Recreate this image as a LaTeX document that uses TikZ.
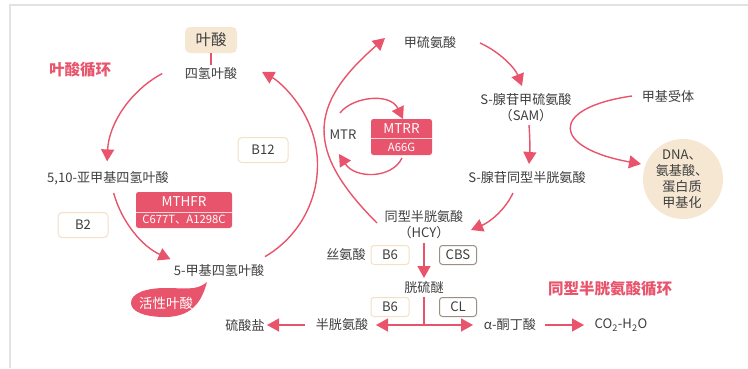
\documentclass[tikz,border=0pt]{standalone}
\usepackage{fontspec}
\setmainfont{Noto Sans CJK SC}
\usetikzlibrary{arrows.meta}
\definecolor{pk}{HTML}{E8546B}
\definecolor{tx}{HTML}{3E3E3E}
\definecolor{bg}{HTML}{F6E7D3}
\definecolor{bb}{HTML}{F5E0C6}
\definecolor{gb}{HTML}{9C8E84}
\definecolor{fr}{HTML}{E2E2E2}
\begin{document}
\begin{tikzpicture}[x=1pt,y=-1pt,
  every node/.style={font=\fontsize{13.1}{16}\selectfont, text=tx, inner sep=0pt},
  con/.style={draw=pk, line width=1.4pt, -{Triangle[length=12pt,width=13pt]}},
  dcon/.style={draw=pk, line width=1.4pt, {Triangle[length=12pt,width=13pt]}-{Triangle[length=12pt,width=13pt]}},
  pline/.style={draw=pk, line width=1.4pt},
  title/.style={font=\fontsize{15.5}{18}\selectfont\bfseries, text=pk},
  vbox/.style={draw=bb, line width=1pt, rounded corners=4pt, fill=white, minimum width=50pt, minimum height=25pt},
  vsmall/.style={draw=bb, line width=1pt, rounded corners=3pt, fill=white, minimum width=38pt, minimum height=19pt},
  gbox/.style={draw=gb, line width=1pt, rounded corners=3pt, fill=white, minimum width=37pt, minimum height=19pt},
  redbox/.style={fill=pk, rounded corners=2.5pt},
  wtext/.style={text=white, font=\fontsize{13.5}{15}\selectfont},
  wsmall/.style={text=white, font=\fontsize{11.3}{13}\selectfont},
  divider/.style={draw=white!75!pk, line width=0.8pt}
]
\useasboundingbox (0,0) rectangle (748,368);
\draw[fr, line width=1.5pt] (10,368) -- (10,5) -- (748,5);

% ---------- folate cycle ----------
\node[fill=bg, rounded corners=5pt, minimum width=52pt, minimum height=26pt, font=\fontsize{15.5}{18}\selectfont] (fa) at (211,40) {叶酸};
\node (thf) at (211,73) {四氢叶酸};
\draw[pline] (fa.south) -- ([yshift=2pt]thf.north);
\node[title] (t1) at (80,70) {叶酸循环};
\node (m10) at (108,178) {5,10-亚甲基四氢叶酸};
\node[vbox] (b2) at (83,225) {B2};
\node[redbox, minimum width=96pt, minimum height=36pt] (mthfr) at (184,210) {};
\node[wtext] (mthfrA) at (184,201.5) {MTHFR};
\node[wsmall] (mthfrB) at (184,220) {C677T、A1298C};
\draw[divider] ([yshift=-2pt]mthfr.west) -- ([yshift=-2pt]mthfr.east);
\node[vbox] (b12) at (263,150) {B12};
\node (m5) at (219,270) {5-甲基四氢叶酸};
\fill[pk] (207,282) .. controls (203,296) and (196,317) .. (165,317)
  .. controls (143,317) and (131,311) .. (131,303)
  .. controls (131,293) and (146,288) .. (166,288)
  .. controls (184,288) and (197,291) .. (207,282) -- cycle;
\node[wtext] (active) at (166,303) {活性叶酸};
\node (sulf) at (245,325) {硫酸盐};

\coordinate (C) at (212,166);
\draw[con] ([shift={(241.7:105)}]C) arc[start angle=241.7, end angle=182.5, radius=105];
\draw[con] ([shift={(164.6:102)}]C) arc[start angle=164.6, end angle=114, radius=102];
\draw[con] ([shift={(59.7:105)}]C) arc[start angle=59.7, end angle=-61.5, radius=106];

% ---------- methionine / homocysteine cycle ----------
\node (met) at (430,42) {甲硫氨酸};
\node[align=center] (sam) at (526,108) {S-腺苷甲硫氨酸\\（SAM）};
\node (sah) at (527,178) {S-腺苷同型半胱氨酸};
\node (mtr) at (343,135) {MTR};
\node[redbox, minimum width=61pt, minimum height=36pt] (mtrr) at (401.5,137) {};
\node[wtext] (mtrrA) at (401.5,128.5) {MTRR};
\node[wsmall] (mtrrB) at (401.5,147.5) {A66G};
\draw[divider] ([yshift=-1pt]mtrr.west) -- ([yshift=-1pt]mtrr.east);
\node (acc) at (668,96) {甲基受体};
\node[circle, fill=bg, minimum size=80pt] (dna) at (683,179) {};
\node[align=center] (dnat) at (682,179) {DNA、\\氨基酸、\\蛋白质\\甲基化};
\node[align=center] (hcy) at (424,225) {同型半胱氨酸\\（HCY）};
\node (ser) at (346,255) {丝氨酸};
\node[vsmall] (b6a) at (390,255) {B6};
\node[gbox] (cbs) at (458,255) {CBS};
\node (cth) at (424,288) {胱硫醚};
\node[vsmall] (b6b) at (390,307) {B6};
\node[gbox] (cl) at (458,307) {CL};
\node (cys) at (342,325) {半胱氨酸};
\node (akb) at (510,325) {α-酮丁酸};
\node (co2) at (621,325) {CO\textsubscript{2}-H\textsubscript{2}O};
\node[title] (t2) at (610,289) {同型半胱氨酸循环};

% connectors
\coordinate (hcyL) at (377,223);
\coordinate (metL) at (385,38);
\draw[con] (hcyL) .. controls (305,151) and (308,105) .. (metL);
\coordinate (metR) at (480,43);
\coordinate (samT) at (522,86);
\draw[con] (metR) .. controls (500,52) and (515,68) .. (samT);
\coordinate (samB) at (529,125);
\coordinate (sahT) at (529,164);
\draw[con] (samB) .. controls (530,138) and (530,150) .. (sahT);
\coordinate (sahB) at (513,193);
\coordinate (hcyR) at (471,230);
\draw[con] (sahB) .. controls (505,210) and (490,222) .. (hcyR);
\coordinate (mtrTop) at (340,113);
\coordinate (mtrrTop) at (403,119);
\draw[con] (mtrTop) .. controls (352,97) and (390,92) .. (mtrrTop);
\coordinate (mtrrBot) at (402,158);
\coordinate (mtrBot) at (339,154);
\draw[con] (mtrrBot) .. controls (392,179) and (355,179) .. (mtrBot);
\coordinate (accL) at (632,96);
\coordinate (dnaL) at (641,164);
\draw[con] (accL) .. controls (548,108) and (552,148) .. (dnaL);
\coordinate (hcyB) at (424,243);
\coordinate (cthT) at (424,278);
\draw[con] (hcyB) -- (cthT);
\coordinate (cthB) at (424,297);
\coordinate (J) at (424,325);
\draw[pline] (cthB) -- (J);
\coordinate (cysR) at (376,325);
\coordinate (akbL) at (473,325);
\draw[dcon] (cysR) -- (akbL);
\coordinate (akbR) at (545,325);
\coordinate (co2L) at (584,325);
\draw[con] (akbR) -- (co2L);
\coordinate (cysL) at (305,325);
\coordinate (sulfR) at (267,325);
\draw[con] (cysL) -- (sulfR);
\end{tikzpicture}
\end{document}
